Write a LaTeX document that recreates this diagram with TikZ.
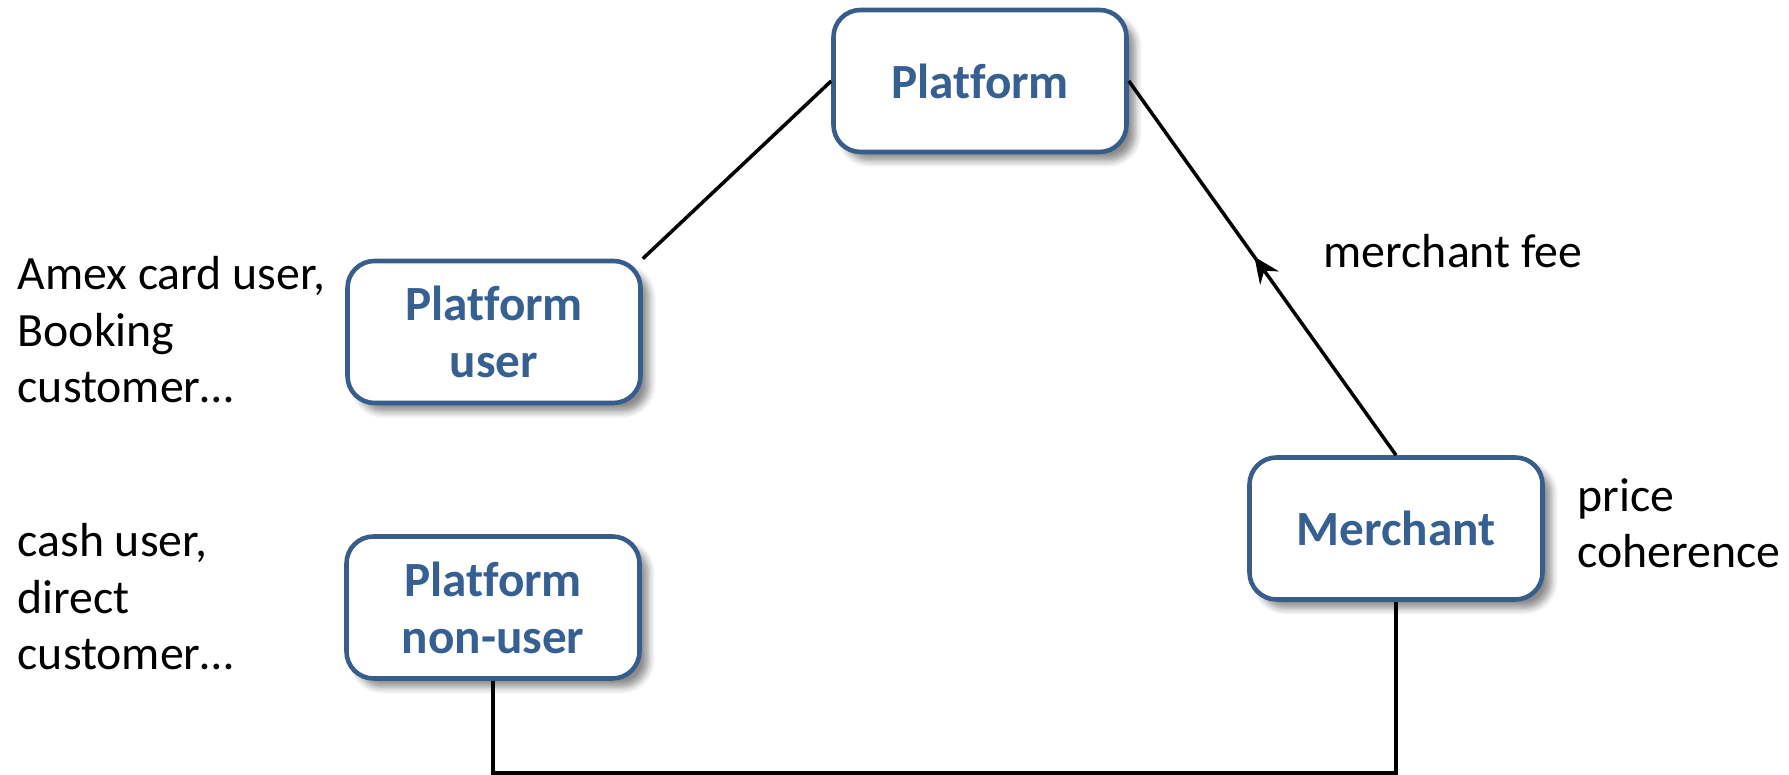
\documentclass[tikz,border=0pt]{standalone}
\usepackage{fontspec}
\setmainfont[Ligatures={TeX,NoCommon}]{Carlito}
\usetikzlibrary{arrows.meta}
\usetikzlibrary{shadows.blur}
\usetikzlibrary{decorations.markings}
\usepackage{xcolor}
\definecolor{boxblue}{RGB}{56,93,138}
\definecolor{textblue}{RGB}{55,96,146}

\begin{document}
\begin{tikzpicture} [
  party/.style={draw=boxblue, line width=1.3pt, fill=white, rounded corners=0.27cm,
    minimum width=2.93cm, minimum height=1.42cm, align=center,
    text=textblue, font=\fontsize{14}{16.2}\selectfont\bfseries,
    blur shadow={shadow xshift=2.5pt, shadow yshift=-2.5pt, shadow blur steps=6, shadow opacity=45}},
  note/.style={anchor=north west, inner sep=0, align=left, font=\fontsize{13.6}{16}\selectfont},
  link/.style={black, line width=1pt}
]
\useasboundingbox (0,0) rectangle (17.89,7.75);
% the four parties
\node[party] (platform) at (9.80,6.94) {Platform};
\node[party] (puser) at (4.94,4.43) {Platform\\user};
\node[party] (pnon) at (4.93,1.675) {Platform\\non-user};
\node[party] (merchant) at (13.96,2.465) {Merchant};
% side notes
\node[note] (usernote) at (0.17,5.19) {Amex card user,\\Booking\\customer\dots};
\node[note] (nonnote) at (0.17,2.52) {cash user,\\direct\\customer\dots};
\node[note] (fee) at (13.23,5.41) {merchant fee};
\node[note] (coherence) at (15.77,2.97) {price\\coherence};
% links
\coordinate (bottom) at (9,0.02);
\draw[link] (puser.north east) -- (platform.west);
\draw[link, postaction={decorate}, decoration={markings,
  mark=at position 0.53 with {\arrow{Stealth[length=2.6mm, width=2.3mm, inset=0.9mm]}}}]
  (merchant.north) -- (platform.east);
\draw[link] (pnon.south) |- (bottom) -| (merchant.south);
\end{tikzpicture}
\end{document}
